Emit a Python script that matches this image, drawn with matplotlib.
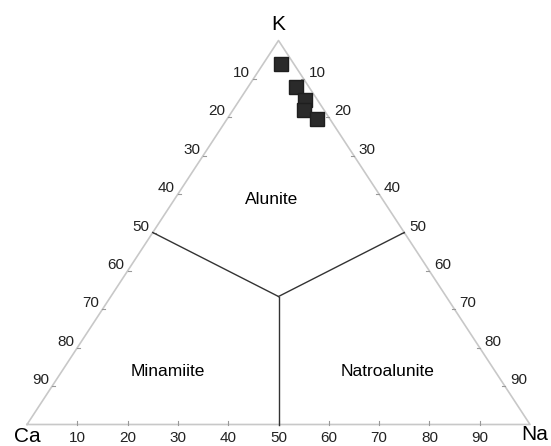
import numpy as np
import matplotlib
matplotlib.use('Agg')
import matplotlib.pyplot as plt

plt.rcParams['font.family'] = ['Liberation Sans', 'DejaVu Sans']

# sample compositions (%)
k_pct = [94.0, 88.0, 84.5, 82.0, 79.5]
na_pct = [3.5, 9.5, 13.0, 14.0, 18.0]
ca_pct = [2.5, 2.5, 2.5, 4.0, 2.5]

tick_vals = [10, 20, 30, 40, 50, 60, 70, 80, 90]
fields = ['Alunite', 'Minamiite', 'Natroalunite']

H = np.sqrt(3) / 2


def to_xy(ca, na, k):
    s = ca + na + k
    na, k = np.asarray(na) / s, np.asarray(k) / s
    return na + 0.5 * k, k * H


fig = plt.figure(figsize=(5.51, 4.46), dpi=100)
ax = fig.add_axes([0, 0, 1, 1])
# pixel mapping: base 27..530 px, base y 424.5, apex y 40
ax.set_xlim(-27 / 503, 524 / 503)
ax.set_ylim(-21.5 / 443.4, 424.5 / 443.4)
ax.axis('off')

axis_col = '#c8c8c8'
# triangle outline
cx, cy = to_xy(np.array([1, 0, 0, 1.0]), np.array([0, 1, 0, 0.0]), np.array([0, 0, 1, 0.0]))
ax.plot(cx, cy, color=axis_col, lw=1.2, zorder=1)

# ticks and tick labels
dx = 3 / 503
dy = 4 / 443.4
for v in tick_vals:
    t = v / 100.0
    # left side (K -> Ca)
    x, y = to_xy(t, 0, 1 - t)
    ax.plot([x, x + dx], [y, y], color='#999999', lw=0.8)
    ax.annotate(str(v), (x, y), xytext=(-3, 6), textcoords='offset pixels',
                ha='right', va='center', fontsize=11, color='#222222')
    # right side (K -> Na)
    x, y = to_xy(0, t, 1 - t)
    ax.plot([x, x - dx], [y, y], color='#999999', lw=0.8)
    ax.annotate(str(v), (x, y), xytext=(5, 6), textcoords='offset pixels',
                ha='left', va='center', fontsize=11, color='#222222')
    # bottom (Ca -> Na)
    x, y = to_xy(1 - t, t, 0)
    ax.plot([x, x], [y, y + dy], color='#999999', lw=0.8)
    ax.annotate(str(v), (x, y), xytext=(0, -14), textcoords='offset pixels',
                ha='center', va='center', fontsize=11, color='#222222')

# field boundaries
c = 1 / 3.0
mx, my = to_xy(c, c, c)
for a, b, kk in [(0.5, 0, 0.5), (0, 0.5, 0.5), (0.5, 0.5, 0)]:
    x, y = to_xy(a, b, kk)
    ax.plot([x, mx], [y, my], color='#333333', lw=1.0, zorder=2)

# vertex labels
x, y = to_xy(0, 0, 1)
ax.annotate('K', (x, y), xytext=(0, 16), textcoords='offset pixels',
            ha='center', va='center', fontsize=15)
x, y = to_xy(1, 0, 0)
ax.annotate('Ca', (x, y), xytext=(0, -12), textcoords='offset pixels',
            ha='center', va='center', fontsize=15)
x, y = to_xy(0, 1, 0)
ax.annotate('Na', (x, y), xytext=(5, -10), textcoords='offset pixels',
            ha='center', va='center', fontsize=15)

# field names
ax.text(245 / 503, (424.5 - 200) / 443.4, fields[0], ha='center', va='center', fontsize=12.5)
ax.text(141 / 503, (424.5 - 372) / 443.4, fields[1], ha='center', va='center', fontsize=12.5)
ax.text(361 / 503, (424.5 - 372) / 443.4, fields[2], ha='center', va='center', fontsize=12.5)

# samples
px, py = to_xy(np.array(ca_pct), np.array(na_pct), np.array(k_pct))
ax.plot(px, py, 's', color='#2a2a2a', ms=9.5, mec='#1e1e1e', zorder=3)

fig.savefig('out.png', dpi=100)
